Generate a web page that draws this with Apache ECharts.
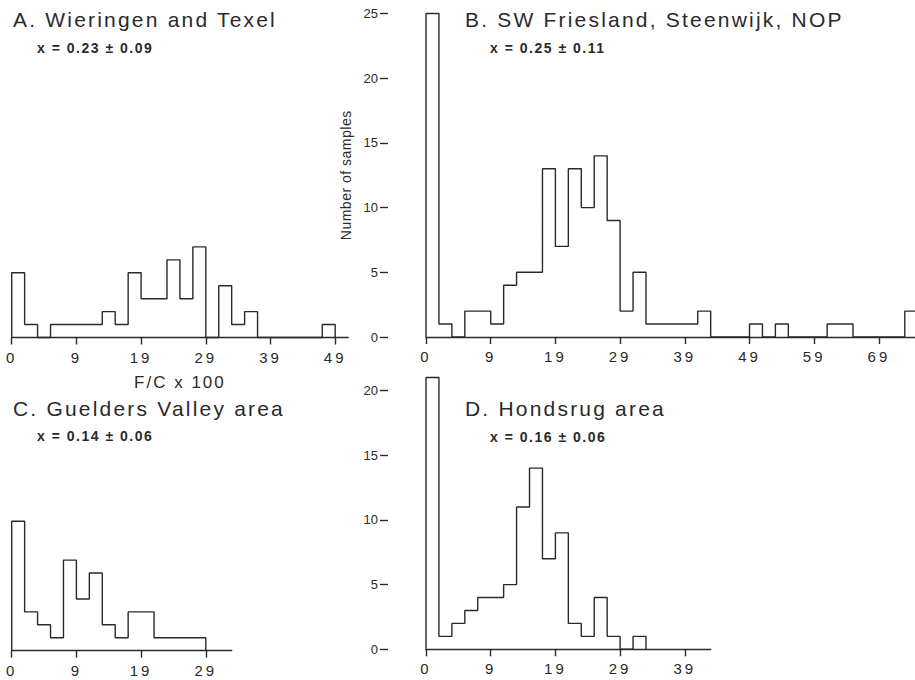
<!DOCTYPE html>
<html>
<head>
<meta charset="utf-8">
<script src="https://cdn.jsdelivr.net/npm/echarts@6/dist/echarts.min.js"></script>
<style>
html,body{margin:0;padding:0;background:#fff;}
#chart{width:915px;height:680px;}
</style>
</head>
<body>
<div id="chart"></div>
<script>
// ---- data (histogram counts, bins of width 2 in F/C x 100, starting at 0) ----
const binWidth = 2;
const countsA = [5,1,0,1,1,1,1,2,1,5,3,3,6,3,7,0,4,1,2,0,0,0,0,0,1];
const countsB = [25,1,0,2,2,1,4,5,5,13,7,13,10,14,9,2,5,1,1,1,1,2,0,0,0,1,0,1,0,0,0,1,1,0,0,0,0,2];
const countsC = [10,3,2,1,7,4,6,2,1,3,3,1,1,1,1];
const countsD = [21,1,2,3,4,4,5,11,14,7,9,2,1,4,1,0,1];

const xTickValues = [0,10,20,30,40,50,60,70];
const xTickLabels = ['0','9','19','29','39','49','59','69'];
const yTickStep = 5;

const titles = ['A. Wieringen and Texel','B. SW Friesland, Steenwijk, NOP','C. Guelders Valley area','D. Hondsrug area'];
const stats = ['x = 0.23 ± 0.09','x = 0.25 ± 0.11','x = 0.14 ± 0.06','x = 0.16 ± 0.06'];
const xAxisTitle = 'F/C x 100';
const yAxisTitle = 'Number of samples';

// ---- layout ----
const INK = '#2a2a2a';
const FONT = 'Liberation Sans';
const PX_X = 6.47, PX_Y = 12.94;
const panels = [
  {counts: countsA, xMax: 52, yMax: 25, left: 11.7, base: 337.5, yAxisShow: false},
  {counts: countsB, xMax: 76, yMax: 25, left: 426,  base: 337.0, yAxisShow: true, yName: yAxisTitle},
  {counts: countsC, xMax: 34, yMax: 25, left: 11.7, base: 650.7, yAxisShow: false},
  {counts: countsD, xMax: 44, yMax: 20, left: 426,  base: 649.3, yAxisShow: true}
];
const textPos = [
  {tx: 13, ty: 19.5, sx: 37, sy: 47.5},
  {tx: 465, ty: 19.5, sx: 490, sy: 47.5},
  {tx: 13, ty: 408, sx: 37, sy: 436},
  {tx: 465, ty: 408, sx: 490, sy: 436.5}
];

function outline(counts) {
  const pts = [[0, 0]];
  counts.forEach((c, i) => pts.push([i * binWidth, c]));
  pts.push([counts.length * binWidth, 0]);
  return pts;
}

const grids = [], xAxes = [], yAxes = [], series = [];
panels.forEach((p, i) => {
  grids.push({
    left: p.left, top: p.base - p.yMax * PX_Y,
    width: p.xMax * PX_X, height: p.yMax * PX_Y,
    outerBoundsMode: 'none', containLabel: false
  });
  const xt = xTickValues.filter(v => v <= p.xMax);
  const xa = {
    type: 'value', gridIndex: i, min: 0, max: p.xMax,
    axisLine: {show: true, onZero: false, lineStyle: {color: INK, width: 1.4}},
    axisTick: {show: true, inside: false, length: 7, customValues: xt, lineStyle: {color: INK, width: 1.4}},
    axisLabel: {
      customValues: xt, margin: 12, fontSize: 15, color: INK, fontFamily: FONT,
      formatter: v => xTickLabels[xTickValues.indexOf(v)]
    },
    splitLine: {show: false}
  };
  if (i === 0) {
    xa.name = xAxisTitle;
    xa.nameLocation = 'middle';
    xa.nameGap = 36;
    xa.nameTextStyle = {fontSize: 17, color: INK, fontFamily: FONT};
  }
  xAxes.push(xa);
  const ya = {
    type: 'value', gridIndex: i, min: 0, max: p.yMax, interval: yTickStep, show: p.yAxisShow,
    offset: 38,
    axisLine: {show: true, onZero: false, lineStyle: {color: '#ffffff', width: 1}},
    axisTick: {show: true, inside: false, length: 8, lineStyle: {color: INK, width: 1.4}},
    axisLabel: {show: true, margin: 10, fontSize: 13, color: INK, fontFamily: FONT},
    splitLine: {show: false}
  };
  if (p.yName) {
    ya.name = p.yName;
    ya.nameLocation = 'middle';
    ya.nameGap = 26;
    ya.nameTextStyle = {fontSize: 14, color: INK, fontFamily: FONT};
  }
  yAxes.push(ya);
  series.push({
    type: 'line', xAxisIndex: i, yAxisIndex: i,
    data: outline(p.counts), step: 'end', symbol: 'none', clip: false,
    lineStyle: {color: INK, width: 1.4}
  });
});

const graphics = [];
titles.forEach((t, i) => {
  const tp = textPos[i];
  graphics.push({type: 'text', x: tp.tx, y: tp.ty, style: {
    text: t, fill: INK, fontSize: 21, fontFamily: FONT, fontWeight: 'normal',
    align: 'left', verticalAlign: 'middle'}});
  graphics.push({type: 'text', x: tp.sx, y: tp.sy, style: {
    text: stats[i], fill: INK, fontSize: 14, fontFamily: FONT, fontWeight: 'bold',
    align: 'left', verticalAlign: 'middle'}});
});

const option = {
  animation: false,
  backgroundColor: '#ffffff',
  textStyle: {fontFamily: FONT, color: INK},
  grid: grids, xAxis: xAxes, yAxis: yAxes, series: series,
  graphic: graphics
};

const dom = document.getElementById('chart');
const chart = echarts.init(dom, null, {renderer: 'svg'});
chart.setOption(option);

function applySpacing() {
  dom.querySelectorAll('text').forEach(t => {
    const cs = getComputedStyle(t);
    const fs = Math.round(parseFloat(cs.fontSize));
    const w = cs.fontWeight;
    const bold = w === 'bold' || parseInt(w, 10) >= 600;
    let ls = 0;
    if (fs === 21) ls = 2.2;
    else if (fs === 17) ls = 2;
    else if (fs === 15) ls = 3;
    else if (fs === 14 && bold) ls = 1.5;
    else if (fs === 14) ls = 0.5;
    t.style.letterSpacing = ls + 'px';
  });
}
chart.on('rendered', applySpacing);
chart.on('finished', applySpacing);
setTimeout(applySpacing, 0);
setTimeout(applySpacing, 100);
</script>
</body>
</html>
